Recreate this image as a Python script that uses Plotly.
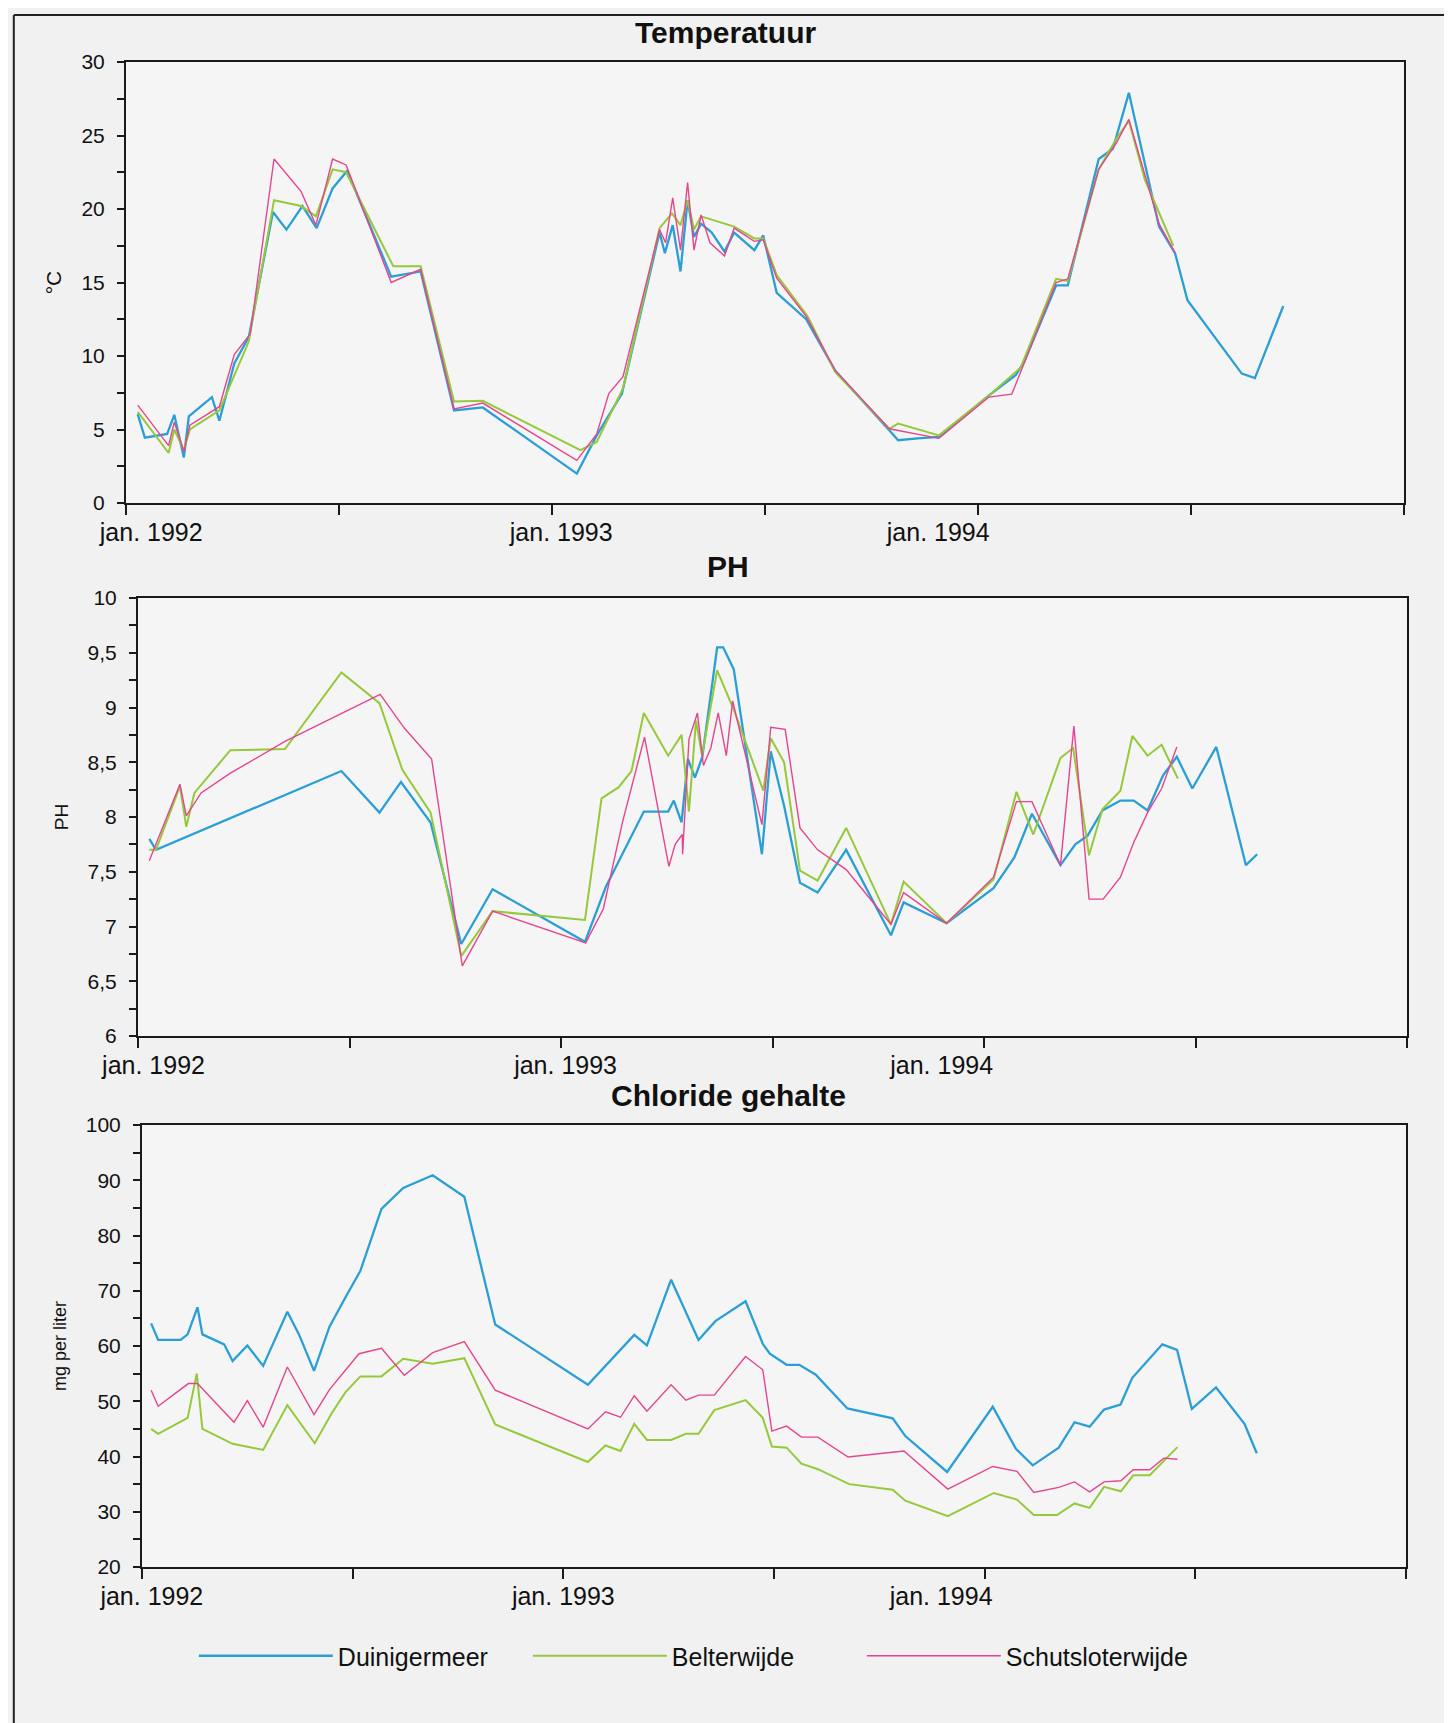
import plotly.graph_objects as go

# ---------------- data (x = months since jan. 1992) ----------------
# Temperatuur (°C)
temp_duin_m = [0.33,0.53,1.16,1.36,1.63,1.77,2.42,2.63,3.05,3.46,4.14,4.52,4.97,5.37,5.82,6.23,7.47,8.3,9.24,10.05,12.7,13.26,13.97,15.03,15.18,15.4,15.62,15.82,16.0,16.2,16.5,16.86,17.13,17.7,17.95,18.33,19.16,19.98,21.5,21.75,22.3,22.9,24.3,25.06,25.3,26.2,26.53,27.4,27.8,28.25,29.1,29.55,29.9,31.43,31.8,32.6]
temp_duin_v = [6.05,4.45,4.7,6.0,3.1,5.9,7.2,5.6,9.5,11.3,19.8,18.6,20.2,18.7,21.4,22.6,15.4,15.75,6.3,6.5,2.0,4.6,7.45,18.4,17.0,18.9,15.75,20.6,18.1,19.0,18.4,17.1,18.4,17.2,18.2,14.3,12.5,9.0,4.95,4.27,4.4,4.5,7.3,8.7,9.6,14.8,14.8,23.4,24.1,27.9,18.8,17.0,13.8,8.8,8.5,13.4]

temp_belt_m = [0.33,1.2,1.36,1.63,1.8,2.63,3.46,4.17,4.93,5.35,5.82,6.2,7.53,8.3,9.24,10.05,12.8,13.26,14.0,15.03,15.38,15.62,15.82,16.0,16.2,17.13,17.7,17.95,18.33,19.2,19.98,21.5,21.75,22.9,24.3,25.2,26.2,26.53,27.4,27.9,28.25,28.7,29.5]
temp_belt_v = [6.2,3.4,5.0,3.6,5.0,6.3,11.0,20.6,20.2,19.5,22.7,22.5,16.1,16.1,6.9,6.95,3.6,4.15,7.8,18.7,19.7,18.9,20.6,18.6,19.5,18.8,18.0,18.0,15.5,12.7,8.9,5.05,5.4,4.6,7.3,9.2,15.25,15.1,22.7,24.8,26.0,22.0,17.5]

temp_schut_m = [0.33,1.2,1.36,1.63,1.8,2.63,3.05,3.5,4.17,4.93,5.35,5.82,6.2,7.47,8.3,9.24,10.05,12.7,13.26,13.6,14.0,15.03,15.2,15.4,15.62,15.82,16.0,16.2,16.45,16.86,17.13,17.7,17.95,18.33,19.16,19.98,21.5,22.9,24.3,24.95,25.3,26.2,26.53,27.4,27.9,28.25,29.1,29.55]
temp_schut_v = [6.66,3.9,5.5,3.5,5.3,6.55,10.1,11.5,23.4,21.2,18.9,23.4,23.0,15.0,15.9,6.4,6.8,2.9,4.7,7.45,8.6,18.6,17.7,20.75,17.2,21.8,17.2,19.6,17.7,16.8,18.7,17.8,17.9,15.3,12.7,9.0,5.05,4.4,7.2,7.4,9.5,15.0,15.25,22.7,24.5,26.1,19.0,17.0]

# PH
ph_duin_m = [0.32,0.51,5.77,6.85,7.46,8.3,9.17,10.06,12.68,13.27,14.35,15.04,15.2,15.42,15.6,15.8,16.01,16.43,16.6,16.9,17.7,17.95,18.33,18.78,19.28,20.09,21.36,21.72,22.94,24.27,24.86,25.36,26.17,26.59,26.94,27.36,27.87,28.25,28.64,29.08,29.47,29.91,30.59,31.43,31.75]
ph_duin_v = [7.80,7.70,8.42,8.04,8.32,7.95,6.84,7.34,6.86,7.36,8.05,8.05,8.15,7.95,8.53,8.36,8.55,9.55,9.55,9.35,7.66,8.6,8.10,7.40,7.31,7.70,6.92,7.22,7.03,7.35,7.63,8.03,7.56,7.75,7.83,8.06,8.15,8.15,8.06,8.38,8.55,8.26,8.64,7.56,7.66]

ph_belt_m = [0.32,0.51,1.19,1.37,1.6,2.62,4.17,5.77,6.85,7.5,8.3,9.17,10.06,12.68,13.15,13.63,14.0,14.35,15.04,15.42,15.63,15.83,16.0,16.43,16.9,17.74,17.95,18.33,18.78,19.28,20.09,21.36,21.72,22.94,24.27,24.92,25.4,26.17,26.53,26.98,27.36,27.87,28.21,28.64,29.04,29.5]
ph_belt_v = [7.70,7.70,8.28,7.91,8.22,8.61,8.62,9.32,9.04,8.43,8.04,6.73,7.14,7.06,8.17,8.27,8.42,8.95,8.56,8.75,8.05,8.88,8.56,9.34,8.98,8.24,8.72,8.5,7.51,7.42,7.9,7.02,7.41,7.03,7.43,8.23,7.84,8.54,8.63,7.65,8.07,8.24,8.74,8.56,8.66,8.35]

ph_schut_m = [0.32,1.19,1.37,1.79,2.62,4.17,6.87,7.56,8.33,9.2,10.06,12.7,13.2,13.75,14.37,15.06,15.24,15.44,15.45,15.63,15.87,16.04,16.25,16.46,16.69,16.87,17.7,17.95,18.36,18.78,19.28,20.09,21.36,21.72,22.94,24.27,24.92,25.36,26.17,26.55,26.98,27.38,27.87,28.25,28.64,29.04,29.47]
ph_schut_v = [7.6,8.3,8.01,8.22,8.4,8.69,9.12,8.81,8.53,6.64,7.14,6.85,7.16,7.96,8.73,7.55,7.75,7.84,7.66,8.71,8.95,8.47,8.63,8.95,8.56,9.06,7.93,8.82,8.8,7.9,7.7,7.52,7.02,7.31,7.03,7.45,8.14,8.14,7.56,8.83,7.25,7.25,7.45,7.77,8.04,8.26,8.64]

# Chloride gehalte (mg per liter)
cl_duin_m = [0.26,0.46,1.1,1.3,1.58,1.72,2.34,2.58,3.0,3.45,4.14,4.47,4.9,5.34,5.82,6.22,6.82,7.44,8.28,9.18,10.06,12.7,14.02,14.38,15.07,15.85,16.33,17.19,17.68,17.88,18.36,18.72,19.19,20.09,21.38,21.74,22.93,24.23,24.89,25.37,26.11,26.56,26.99,27.4,27.87,28.2,29.06,29.48,29.9,30.59,31.4,31.75]
cl_duin_v = [64.1,61.1,61.1,62.1,67.0,62.1,60.3,57.3,60.1,56.4,66.2,62.1,55.5,63.5,69.1,73.6,84.8,88.6,90.9,87.0,63.9,53.0,62.0,60.1,72.0,61.1,64.5,68.1,60.4,58.6,56.6,56.6,54.8,48.7,46.9,43.7,37.2,49.0,41.4,38.4,41.6,46.2,45.4,48.5,49.4,54.2,60.3,59.3,48.6,52.5,45.9,40.6]

cl_belt_m = [0.26,0.46,1.3,1.56,1.72,2.58,3.45,4.14,4.92,5.4,5.79,6.22,6.82,7.44,8.28,9.18,10.06,12.7,13.2,13.63,14.02,14.38,15.07,15.49,15.85,16.3,17.19,17.68,17.94,18.36,18.78,19.25,20.14,21.38,21.74,22.95,24.26,24.92,25.4,26.06,26.56,26.99,27.4,27.88,28.23,28.7,29.49]
cl_belt_v = [45.0,44.1,47.0,55.0,45.0,42.3,41.2,49.3,42.4,47.8,51.6,54.5,54.5,57.7,56.8,57.8,45.8,39.0,42.0,41.0,45.9,43.0,43.0,44.1,44.1,48.4,50.2,47.0,41.8,41.6,38.7,37.7,35.0,34.0,32.0,29.2,33.4,32.2,29.4,29.4,31.5,30.7,34.5,33.7,36.6,36.6,41.7]

cl_schut_m = [0.26,0.46,1.32,1.58,2.62,3.0,3.45,4.14,4.9,5.34,6.18,6.82,7.47,8.28,9.18,10.06,12.7,13.2,13.63,14.02,14.38,15.07,15.49,15.85,16.3,17.19,17.68,17.94,18.36,18.78,19.25,20.11,21.7,22.95,24.23,24.92,25.4,26.11,26.56,26.99,27.4,27.88,28.23,28.7,29.1,29.49]
cl_schut_v = [52.0,49.1,53.2,53.2,46.2,50.1,45.3,56.2,47.6,52.1,58.6,59.6,54.7,58.8,60.8,52.0,45.0,48.1,47.1,51.0,48.2,53.0,50.2,51.1,51.1,58.1,55.7,44.6,45.5,43.5,43.5,39.9,41.0,34.1,38.2,37.3,33.5,34.4,35.4,33.6,35.4,35.6,37.6,37.6,39.7,39.5]

series_names = ["Duinigermeer", "Belterwijde", "Schutsloterwijde"]
x_tick_months = [0, 6, 12, 18, 24, 30, 36]
x_label_text = ["jan. 1992", "jan. 1993", "jan. 1994"]
temp_label_pos = [0.71, 12.26, 22.88]
ph_label_pos = [0.44, 12.13, 22.8]
cl_label_pos = [0.28, 12.0, 22.76]

temp_ticks = [0, 2.5, 5, 7.5, 10, 12.5, 15, 17.5, 20, 22.5, 25, 27.5, 30]
temp_ticktext = ["0", "", "5", "", "10", "", "15", "", "20", "", "25", "", "30"]
ph_ticks = [6 + 0.25 * i for i in range(17)]
ph_ticktext = ["6", "", "6,5", "", "7", "", "7,5", "", "8", "", "8,5", "", "9", "", "9,5", "", "10"]
cl_ticks = [20 + 5 * i for i in range(17)]
cl_ticktext = [str(v) if v % 10 == 0 else "" for v in cl_ticks]

# ---------------- styling ----------------
colors = ["#2a9fd6", "#95c93a", "#e5458e"]
widths = [2.3, 2.0, 1.4]
FONT = "Liberation Sans, Arial, sans-serif"
W, H = 1452, 1723

fig = go.Figure()

panels = [
    ("x", "y", [(temp_duin_m, temp_duin_v), (temp_belt_m, temp_belt_v), (temp_schut_m, temp_schut_v)]),
    ("x2", "y2", [(ph_duin_m, ph_duin_v), (ph_belt_m, ph_belt_v), (ph_schut_m, ph_schut_v)]),
    ("x3", "y3", [(cl_duin_m, cl_duin_v), (cl_belt_m, cl_belt_v), (cl_schut_m, cl_schut_v)]),
]
for pi, (xa, ya, data) in enumerate(panels):
    for si, (mx, vy) in enumerate(data):
        fig.add_trace(go.Scatter(
            x=mx, y=vy, mode="lines", name=series_names[si],
            legendgroup=series_names[si], showlegend=(pi == 0),
            line=dict(color=colors[si], width=widths[si]),
            xaxis=xa, yaxis=ya, hoverinfo="skip"))

def px_x(p):
    return p / W

def px_y(p):
    return 1 - p / H

xdom = [(118, 1396), (130, 1399), (134, 1398)]
ydom = [(54, 495), (590, 1028), (1117, 1559)]

axis_line = dict(showline=True, linecolor="#1a1a1a", linewidth=2, mirror=True,
                 showgrid=False, zeroline=False, fixedrange=True, automargin=False)

layout = dict(
    width=W, height=H,
    margin=dict(l=0, r=0, t=0, b=0, autoexpand=False),
    paper_bgcolor="#f1f1f1", plot_bgcolor="#f5f5f5",
    font=dict(family=FONT, color="#111111"),
    showlegend=True,
    legend=dict(orientation="h", x=0.128, y=px_y(1648), xanchor="left", yanchor="middle",
                font=dict(size=25, family=FONT), itemwidth=134,
                entrywidth=185, entrywidthmode="pixels",
                bgcolor="rgba(0,0,0,0)", tracegroupgap=0),
)

y_specs = [
    dict(range=[0, 30], tickvals=temp_ticks, ticktext=temp_ticktext, title="°C", tsize=21),
    dict(range=[6, 10], tickvals=ph_ticks, ticktext=ph_ticktext, title="PH", tsize=19),
    dict(range=[20, 100], tickvals=cl_ticks, ticktext=cl_ticktext, title="mg per liter", tsize=18),
]
label_pos = [temp_label_pos, ph_label_pos, cl_label_pos]

for i in range(3):
    sx = "" if i == 0 else str(i + 1)
    ys = y_specs[i]
    layout["xaxis" + sx] = dict(
        axis_line, domain=[px_x(xdom[i][0]), px_x(xdom[i][1])], anchor="y" + sx,
        range=[0, 36], tickmode="array", tickvals=label_pos[i], ticktext=x_label_text,
        ticks="outside", ticklen=0, tickwidth=0, tickcolor="rgba(0,0,0,0)",
        tickfont=dict(size=25, family=FONT, color="#111111"), ticklabelstandoff=6,
        minor=dict(tickmode="array", tickvals=x_tick_months, ticks="outside",
                   ticklen=10, tickwidth=1.5, tickcolor="#1a1a1a", showgrid=False))
    layout["yaxis" + sx] = dict(
        axis_line, domain=[px_y(ydom[i][1]), px_y(ydom[i][0])], anchor="x" + sx,
        range=ys["range"], tickmode="array", tickvals=ys["tickvals"], ticktext=ys["ticktext"],
        ticks="outside", ticklen=7, tickwidth=1.5, tickcolor="#1a1a1a",
        tickfont=dict(size=21, family=FONT, color="#111111"), ticklabelstandoff=8,
        title=dict(text=ys["title"], font=dict(size=ys["tsize"], family=FONT), standoff=14))

fig.update_layout(**layout)

titles = [("Temperatuur", 717, 24), ("PH", 720, 558), ("Chloride gehalte", 720, 1087)]
for t, xx, yy in titles:
    fig.add_annotation(text="<b>%s</b>" % t, xref="paper", yref="paper",
                       x=px_x(xx), y=px_y(yy), xanchor="center", yanchor="middle",
                       showarrow=False, font=dict(size=30, family=FONT, color="#111111"))

# page frame of the scanned sheet (top, left, bottom edges)
for (x0, y0, x1, y1) in [(0.004, 0.996, 1.0, 0.996), (0.004, 0.003, 0.004, 0.996),
                         (0.004, 0.003, 1.0, 0.003)]:
    fig.add_shape(type="line", xref="paper", yref="paper", x0=x0, y0=y0, x1=x1, y1=y1,
                  line=dict(color="#222222", width=2))

fig.write_html("out.html")
